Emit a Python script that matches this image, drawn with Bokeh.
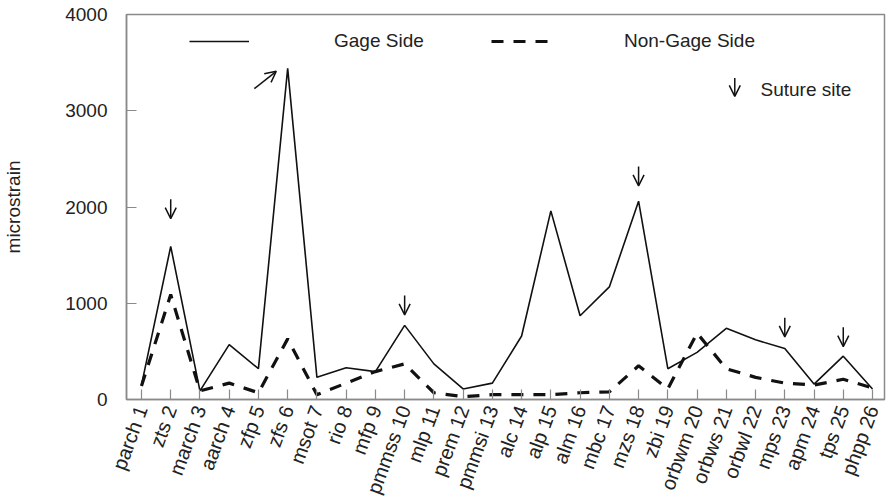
from bokeh.plotting import figure
from bokeh.models import (ColumnDataSource, FixedTicker, Range1d, Legend, LegendItem,
                          Arrow, OpenHead, Label)
from bokeh.embed import file_html
from bokeh.resources import INLINE

categories = ["parch 1", "zts 2", "march 3", "aarch 4", "zfp 5", "zfs 6", "msot 7",
              "rio 8", "mfp 9", "pmmss 10", "mlp 11", "prem 12", "pmmsi 13", "alc 14",
              "alp 15", "alm 16", "mbc 17", "mzs 18", "zbi 19", "orbwm 20", "orbws 21",
              "orbwl 22", "mps 23", "apm 24", "tps 25", "phpp 26"]
gage_side = [150, 1590, 90, 570, 320, 3440, 230, 330, 290, 770, 370, 110, 170,
             660, 1960, 870, 1170, 2060, 320, 490, 740, 620, 530, 160, 450, 110]
non_gage_side = [140, 1090, 90, 170, 70, 630, 50, 170, 290, 370, 70, 30, 50,
                 50, 50, 70, 80, 350, 110, 690, 320, 230, 170, 150, 210, 120]
y_ticks = [0, 1000, 2000, 3000, 4000]

# suture-site arrows (category, height of the arrow tip in microstrain)
suture_sites = ["zts 2", "pmmss 10", "mzs 18", "mps 23", "tps 25"]
suture_tip = [1880, 880, 2220, 650, 550]

FONT = "Liberation Sans"
TXT = "#222222"
AX = "#8a8a8a"

x = list(range(1, len(categories) + 1))
src = ColumnDataSource(dict(x=x, gage=gage_side, non=non_gage_side))

p = figure(width=887, height=503, output_backend="svg", toolbar_location=None,
           x_range=Range1d(0.488, 26.41), y_range=Range1d(0, 4000),
           min_border_left=125, min_border_right=3, min_border_top=14,
           min_border_bottom=104)
p.xgrid.visible = False
p.ygrid.visible = False
p.outline_line_color = AX
p.outline_line_width = 1.5
p.background_fill_color = "white"
p.border_fill_color = "white"

r_gage = p.line("x", "gage", source=src, line_color="#111111", line_width=1.6)
r_non = p.line("x", "non", source=src, line_color="#111111", line_width=3.2,
               line_dash="12 10")

# axes
p.xaxis.ticker = FixedTicker(ticks=x)
p.xaxis.major_label_overrides = {i: c for i, c in zip(x, categories)}
p.xaxis.major_label_orientation = 1.22
p.xaxis.major_label_standoff = 7
p.yaxis.ticker = FixedTicker(ticks=y_ticks)
p.yaxis.major_label_standoff = 19
p.yaxis.axis_label = "microstrain"
p.yaxis.axis_label_standoff = 38
p.yaxis.axis_label_text_font_style = "normal"
for ax in (p.xaxis, p.yaxis):
    ax.axis_line_color = AX
    ax.axis_line_width = 1.5
    ax.major_tick_line_color = AX
    ax.major_tick_line_width = 1.2
    ax.major_tick_in = 10
    ax.major_tick_out = 0
    ax.minor_tick_line_color = None
    ax.major_label_text_font = FONT
    ax.major_label_text_color = TXT
    ax.axis_label_text_font = FONT
    ax.axis_label_text_color = TXT
p.xaxis.major_label_text_font_size = "20px"
p.yaxis.major_label_text_font_size = "19px"
p.yaxis.axis_label_text_font_size = "19px"

# legends
def make_legend(label, rend, loc, standoff):
    lg = Legend(items=[LegendItem(label=label, renderers=[rend])], location=loc,
                orientation="horizontal", glyph_width=60, glyph_height=20,
                label_standoff=standoff, padding=0, margin=0, spacing=0,
                border_line_color=None, background_fill_alpha=0,
                label_text_font=FONT, label_text_font_size="19px",
                label_text_color=TXT)
    p.add_layout(lg, "center")

make_legend("Gage Side", r_gage, (63, 347), 85)
make_legend("Non-Gage Side", r_non, (365, 347), 73)

HEAD = 11

# suture-site arrows
idx = [categories.index(s) + 1 for s in suture_sites]
arr_src = ColumnDataSource(dict(xs=idx, xe=idx, ys=[t + 200 for t in suture_tip],
                                ye=suture_tip))
p.add_layout(Arrow(end=OpenHead(size=HEAD, line_width=1.5, line_color="#111111"),
                   x_start="xs", y_start="ys", x_end="xe", y_end="ye",
                   source=arr_src, line_width=1.5, line_color="#111111"))

# legend entry for suture site
p.add_layout(Arrow(end=OpenHead(size=HEAD, line_width=1.5, line_color="#111111"),
                   x_start=21.29, y_start=3340, x_end=21.29, y_end=3150,
                   line_width=1.5, line_color="#111111"))
p.add_layout(Label(x=22.17, y=3221, text="Suture site", text_font=FONT,
                   text_font_size="19px", text_color=TXT, text_baseline="middle"))

# slanted arrow pointing at the zfs 6 peak
p.add_layout(Arrow(end=OpenHead(size=HEAD, line_width=1.5, line_color="#111111"),
                   x_start=4.86, y_start=3230, x_end=5.61, y_end=3410,
                   line_width=1.5, line_color="#111111"))

open("out.html", "w").write(file_html(p, INLINE))
